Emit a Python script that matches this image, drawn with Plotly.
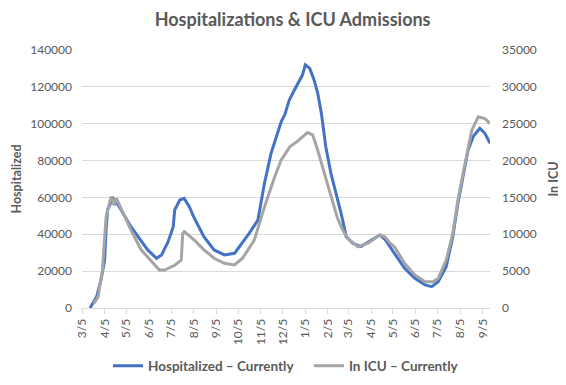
import plotly.graph_objects as go

hosp_dates = ["2020-03-16","2020-03-25","2020-03-31","2020-04-05","2020-04-07","2020-04-09","2020-04-14","2020-04-16","2020-04-18","2020-04-21",
              "2020-05-11","2020-05-25","2020-06-03","2020-06-15","2020-06-22","2020-07-01","2020-07-08","2020-07-10","2020-07-17","2020-07-23",
              "2020-07-30","2020-08-06","2020-08-19","2020-09-02","2020-09-16","2020-09-30","2020-10-07","2020-10-20","2020-11-01","2020-11-10",
              "2020-11-19","2020-11-26","2020-12-03","2020-12-08","2020-12-14","2020-12-21","2020-12-28","2021-01-01","2021-01-05","2021-01-11",
              "2021-01-17","2021-01-22","2021-01-27","2021-02-02","2021-02-09","2021-02-16","2021-02-23","2021-03-02","2021-03-11","2021-03-22",
              "2021-04-05","2021-04-17","2021-04-24","2021-05-01","2021-05-07","2021-05-21","2021-06-04","2021-06-18","2021-06-27","2021-07-06",
              "2021-07-17","2021-07-26","2021-08-02","2021-08-09","2021-08-16","2021-08-23","2021-09-01","2021-09-08","2021-09-15"]
hosp_values = [0, 6100, 15200, 26000, 42300, 53200, 57700, 60400, 55900, 57700,
               44100, 36000, 31500, 27000, 28800, 36000, 44100, 53200, 58600, 59500,
               55000, 48700, 38700, 31500, 28800, 29700, 33300, 40500, 47700, 67700,
               83900, 93000, 101100, 105000, 112900, 118300, 123700, 126400, 131900, 130000,
               123700, 116500, 105600, 87500, 73100, 62200, 51400, 38700, 35100, 33300,
               36900, 39600, 37300, 33300, 29700, 21500, 16100, 12500, 11600, 14300,
               22400, 38700, 56800, 71200, 85700, 93000, 97500, 94800, 89400]

icu_dates = ["2020-03-21","2020-03-27","2020-04-02","2020-04-07","2020-04-14","2020-04-18","2020-04-21","2020-05-11","2020-05-25","2020-06-08",
             "2020-06-19","2020-06-26","2020-07-10","2020-07-19","2020-07-21","2020-07-23","2020-08-06","2020-08-19","2020-09-02","2020-09-16",
             "2020-09-30","2020-10-11","2020-10-27","2020-11-10","2020-11-24","2020-12-03","2020-12-08","2020-12-15","2020-12-25","2021-01-01",
             "2021-01-08","2021-01-15","2021-01-22","2021-01-31","2021-02-09","2021-02-18","2021-02-25","2021-03-04","2021-03-18","2021-04-01",
             "2021-04-17","2021-04-24","2021-05-01","2021-05-07","2021-05-21","2021-06-04","2021-06-18","2021-06-29","2021-07-06","2021-07-17",
             "2021-07-26","2021-08-02","2021-08-11","2021-08-21","2021-08-30","2021-09-08","2021-09-15"]
icu_values = [600, 1500, 5150, 12400, 15100, 14000, 14900, 10600, 7900, 6300,
              5150, 5150, 5800, 6500, 10100, 10350, 9200, 7900, 6750, 6070,
              5830, 6750, 9200, 13700, 17800, 20100, 20800, 21900, 22600, 23200,
              23800, 23500, 21400, 18300, 15100, 12200, 10600, 9450, 8300, 8800,
              9900, 9670, 8800, 8300, 6070, 4480, 3570, 3570, 4030, 6500,
              10100, 14650, 19200, 24100, 25950, 25700, 25050]

FONT = "Lato, Open Sans, sans-serif"
TXT = "#595959"

# page body has an 8px default margin; figure is sized/offset accordingly
W, H = 558, 377
L, R, T, B = 74, 76, 42, 77
PW = W - L - R
PH = H - T - B

fig = go.Figure()
fig.add_trace(go.Scatter(x=hosp_dates, y=hosp_values, mode="lines",
                         name="<b>Hospitalized – Currently</b>&nbsp;&nbsp;&nbsp;",
                         line=dict(color="#4472C4", width=3), yaxis="y"))
fig.add_trace(go.Scatter(x=icu_dates, y=icu_values, mode="lines", name="<b>In ICU – Currently</b>",
                         line=dict(color="#A5A5A5", width=3), yaxis="y2"))

fig.update_layout(
    width=W, height=H,
    margin=dict(l=L, r=R, t=T, b=B, autoexpand=False),
    paper_bgcolor="white", plot_bgcolor="white",
    font=dict(family=FONT, color=TXT, size=12),
    title=dict(text="<b>Hospitalizations & ICU Admissions</b>", x=0.51, xanchor="center", y=1 - 12 / H, yanchor="middle",
               font=dict(size=18, color=TXT, family=FONT)),
    xaxis=dict(type="date", range=["2020-03-05", "2021-09-15"], tick0="2020-03-05", dtick="M1",
               tickformat="%-m/%-d", tickangle=-90, showgrid=False, showline=True, linecolor="#D9D9D9",
               ticks="outside", ticklen=5, tickcolor="#D9D9D9", tickfont=dict(size=12, color=TXT),
               zeroline=False, automargin=False),
    yaxis=dict(range=[0, 140000], dtick=20000, showgrid=True, gridcolor="#D9D9D9", zeroline=False,
               tickfont=dict(size=12, color=TXT), tickformat="d", ticklabelstandoff=9, automargin=False),
    yaxis2=dict(range=[0, 35000], dtick=5000, overlaying="y", side="right", showgrid=False, zeroline=False,
                tickfont=dict(size=12, color=TXT), tickformat="d", ticklabelstandoff=11, automargin=False),
    legend=dict(orientation="h", x=0.5, xanchor="center", y=-58 / PH, yanchor="middle",
                bgcolor="rgba(0,0,0,0)",
                font=dict(size=13.5, color=TXT, family=FONT), traceorder="normal"),
    showlegend=True,
    annotations=[
        dict(text="<b>Hospitalized</b>", xref="paper", yref="paper", x=(7.5 - L) / PW, y=0.5,
             xanchor="center", yanchor="middle", textangle=-90, showarrow=False,
             font=dict(size=12.5, color=TXT, family=FONT)),
        dict(text="<b>In ICU</b>", xref="paper", yref="paper", x=(544.5 - L) / PW, y=0.5,
             xanchor="center", yanchor="middle", textangle=-90, showarrow=False,
             font=dict(size=12.5, color=TXT, family=FONT)),
    ],
)

fig.write_html("out.html")
